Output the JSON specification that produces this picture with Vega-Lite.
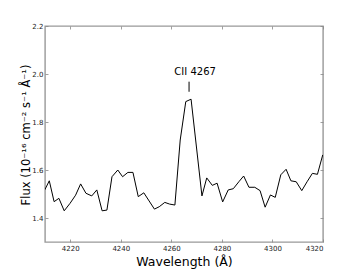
{
  "$schema": "https://vega.github.io/schema/vega-lite/v6.json",
  "width": 278,
  "height": 216,
  "autosize": {"type": "none"},
  "padding": {"left": 45, "top": 26, "right": 37, "bottom": 28},
  "background": "white",
  "config": {
    "view": {"stroke": "#999999", "strokeWidth": 1.4},
    "font": "DejaVu Sans",
    "axis": {
      "domain": false,
      "grid": false,
      "tickSize": -3,
      "tickColor": "#888888",
      "tickWidth": 0.8,
      "labelFont": "DejaVu Sans",
      "labelFontSize": 7,
      "labelColor": "#222222",
      "titleFont": "DejaVu Sans",
      "titleFontWeight": "normal",
      "titleColor": "#000000"
    }
  },
  "datasets": {
    "spec": [
      {"wl": 4209.9, "flux": 1.517},
      {"wl": 4211.7, "flux": 1.555},
      {"wl": 4213.6, "flux": 1.468},
      {"wl": 4215.5, "flux": 1.482},
      {"wl": 4217.6, "flux": 1.430},
      {"wl": 4219.9, "flux": 1.461},
      {"wl": 4222.1, "flux": 1.495},
      {"wl": 4224.1, "flux": 1.542},
      {"wl": 4226.2, "flux": 1.503},
      {"wl": 4228.5, "flux": 1.492},
      {"wl": 4230.5, "flux": 1.517},
      {"wl": 4232.6, "flux": 1.430},
      {"wl": 4234.5, "flux": 1.433},
      {"wl": 4236.5, "flux": 1.572},
      {"wl": 4238.8, "flux": 1.600},
      {"wl": 4240.7, "flux": 1.572},
      {"wl": 4242.8, "flux": 1.590},
      {"wl": 4244.8, "flux": 1.590},
      {"wl": 4246.9, "flux": 1.489},
      {"wl": 4249.1, "flux": 1.505},
      {"wl": 4251.2, "flux": 1.471},
      {"wl": 4253.3, "flux": 1.437},
      {"wl": 4255.2, "flux": 1.447},
      {"wl": 4257.4, "flux": 1.465},
      {"wl": 4259.3, "flux": 1.458},
      {"wl": 4261.4, "flux": 1.454},
      {"wl": 4263.5, "flux": 1.725},
      {"wl": 4265.7, "flux": 1.885},
      {"wl": 4267.8, "flux": 1.895},
      {"wl": 4272.1, "flux": 1.492},
      {"wl": 4274.0, "flux": 1.567},
      {"wl": 4276.2, "flux": 1.536},
      {"wl": 4278.1, "flux": 1.545},
      {"wl": 4280.3, "flux": 1.467},
      {"wl": 4282.5, "flux": 1.517},
      {"wl": 4284.5, "flux": 1.522},
      {"wl": 4286.7, "flux": 1.551},
      {"wl": 4288.6, "flux": 1.575},
      {"wl": 4290.7, "flux": 1.528},
      {"wl": 4293.0, "flux": 1.528},
      {"wl": 4295.1, "flux": 1.514},
      {"wl": 4297.1, "flux": 1.445},
      {"wl": 4299.2, "flux": 1.496},
      {"wl": 4301.1, "flux": 1.486},
      {"wl": 4303.3, "flux": 1.580},
      {"wl": 4305.4, "flux": 1.603},
      {"wl": 4307.3, "flux": 1.555},
      {"wl": 4309.4, "flux": 1.551},
      {"wl": 4311.6, "flux": 1.514},
      {"wl": 4313.7, "flux": 1.551},
      {"wl": 4315.8, "flux": 1.586},
      {"wl": 4317.8, "flux": 1.582},
      {"wl": 4319.9, "flux": 1.663}
    ],
    "marker": [
      {"wl": 4267, "y1": 1.926, "y2": 1.968, "ty": 1.996, "tx": 4269.4, "label": "CII 4267"}
    ]
  },
  "resolve": {"axis": {"x": "independent", "y": "independent"}},
  "layer": [
    {
      "data": {"name": "spec"},
      "mark": {"type": "line", "color": "#000000", "strokeWidth": 1, "clip": true},
      "encoding": {
        "x": {
          "field": "wl", "type": "quantitative",
          "scale": {"domain": [4210, 4320], "nice": false, "zero": false},
          "axis": {"values": [4220, 4240, 4260, 4280, 4300, 4320], "format": "d", "title": "Wavelength (Å)", "titleFontSize": 12.5, "labelPadding": 5, "titlePadding": 4}
        },
        "y": {
          "field": "flux", "type": "quantitative",
          "scale": {"domain": [1.3, 2.2], "nice": false, "zero": false},
          "axis": {"values": [1.4, 1.6, 1.8, 2.0, 2.2], "format": ".1f", "title": "Flux (10⁻¹⁶ cm⁻² s⁻¹ Å⁻¹)", "titleFontSize": 11.5, "labelPadding": 5, "titleX": -16, "titleY": 108.5, "titleAngle": -90, "titleAlign": "center", "titleBaseline": "alphabetic"}
        }
      }
    },
    {
      "data": {"name": "marker"},
      "mark": {"type": "rule", "color": "#000000", "strokeWidth": 1},
      "encoding": {
        "x": {
          "field": "wl", "type": "quantitative",
          "scale": {"domain": [4210, 4320], "nice": false, "zero": false},
          "axis": {"orient": "top", "values": [4220, 4240, 4260, 4280, 4300, 4320], "labels": false, "title": null}
        },
        "y": {
          "field": "y1", "type": "quantitative",
          "scale": {"domain": [1.3, 2.2], "nice": false, "zero": false},
          "axis": {"orient": "right", "values": [1.4, 1.6, 1.8, 2.0, 2.2], "labels": false, "title": null}
        },
        "y2": {"field": "y2"}
      }
    },
    {
      "data": {"name": "marker"},
      "mark": {"type": "text", "fontSize": 10, "font": "DejaVu Sans", "color": "#000000", "baseline": "alphabetic", "align": "center"},
      "encoding": {
        "x": {"field": "tx", "type": "quantitative", "scale": {"domain": [4210, 4320], "nice": false, "zero": false}, "axis": null},
        "y": {"field": "ty", "type": "quantitative", "scale": {"domain": [1.3, 2.2], "nice": false, "zero": false}, "axis": null},
        "text": {"field": "label"}
      }
    }
  ]
}
